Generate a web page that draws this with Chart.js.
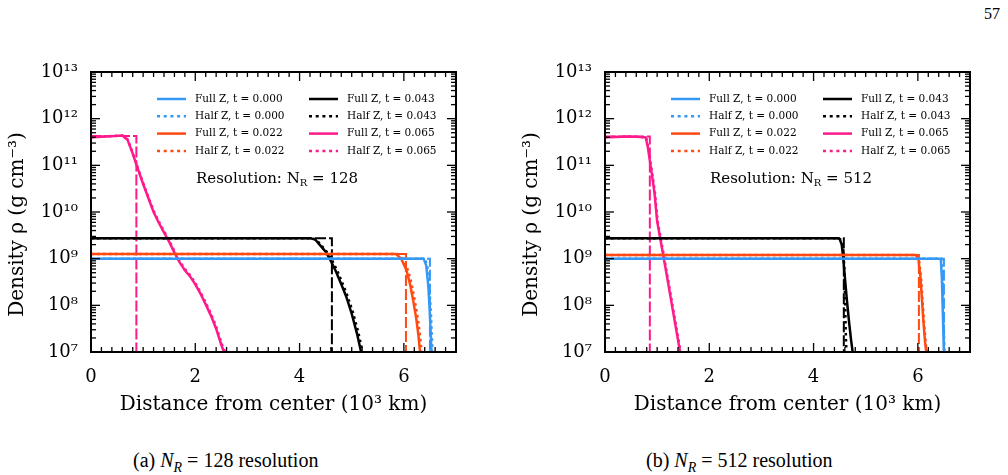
<!DOCTYPE html>
<html>
<head>
<meta charset="utf-8">
<script src="https://cdn.jsdelivr.net/npm/chart.js@4.4.1/dist/chart.umd.min.js"></script>
<style>
  body { margin: 0; background: #fff; width: 1008px; height: 475px; position: relative; overflow: hidden; }
  canvas { position: absolute; top: 0; }
  #left { left: 0; }
  #right { left: 514px; }
  .caption { position: absolute; top: 448px; font-family: "Liberation Serif", serif; font-size: 20px; line-height: 24px; white-space: nowrap; }
  .caption sub { font-size: 14px; line-height: 0; }
  .pagenum { position: absolute; top: 5px; left: 984px; font-family: "Liberation Serif", serif; font-size: 16px; }
</style>
</head>
<body>
<div class="pagenum">57</div>
<canvas id="left" width="494" height="420"></canvas>
<canvas id="right" width="494" height="420"></canvas>
<div class="caption" style="left:133px">(a) <i>N</i><sub><i>R</i></sub> = 128 resolution</div>
<div class="caption" style="left:646px">(b) <i>N</i><sub><i>R</i></sub> = 512 resolution</div>
<script>
// axis ranges and ticks
const xMin = 0, xMax = 7;
const xTickLabels = [0, 2, 4, 6];
const yDecades = [7, 8, 9, 10, 11, 12, 13];

const times = ['0.000', '0.022', '0.043', '0.065'];
const timeColors = ['#3598f5', '#ff4a12', '#000000', '#ff1a8c'];

// N_R = 128 : [distance (10^3 km), log10 density]
const r128Full000 = [[0, 9.0], [6.38, 9.0], [6.43, 8.85], [6.47, 8.4], [6.5, 7.8], [6.53, 7.0]];
const r128Half000 = [[0, 9.0], [6.4, 9.0], [6.45, 8.85], [6.49, 8.4], [6.52, 7.8], [6.55, 7.0]];
const r128Full022 = [[0, 9.1], [5.85, 9.1], [5.95, 9.0], [6.05, 8.75], [6.12, 8.45], [6.18, 8.1], [6.24, 7.7], [6.28, 7.35], [6.31, 7.0]];
const r128Half022 = [[0, 9.1], [5.88, 9.1], [5.98, 9.0], [6.08, 8.75], [6.15, 8.45], [6.21, 8.1], [6.27, 7.7], [6.31, 7.35], [6.34, 7.0]];
const r128Full043 = [[0, 9.44], [4.2, 9.44], [4.3, 9.41], [4.4, 9.28], [4.5, 9.15], [4.6, 8.95], [4.7, 8.72], [4.8, 8.45], [4.9, 8.17], [5.0, 7.82], [5.1, 7.4], [5.18, 7.0]];
const r128Half043 = [[0, 9.44], [4.22, 9.44], [4.32, 9.41], [4.42, 9.28], [4.52, 9.15], [4.62, 8.97], [4.72, 8.75], [4.82, 8.48], [4.92, 8.2], [5.02, 7.86], [5.12, 7.45], [5.21, 7.0]];
const r128Full065 = [[0, 11.6], [0.3, 11.62], [0.6, 11.64], [0.7, 11.55], [0.8, 11.25], [0.9, 10.92], [1.0, 10.6], [1.1, 10.3], [1.2, 10.0], [1.3, 9.77], [1.4, 9.56], [1.5, 9.36], [1.6, 9.13], [1.7, 8.92], [1.8, 8.75], [1.9, 8.62], [2.0, 8.45], [2.1, 8.25], [2.2, 8.02], [2.3, 7.78], [2.4, 7.5], [2.5, 7.15], [2.55, 7.0]];
const r128Half065 = [[0, 11.6], [0.3, 11.62], [0.6, 11.64], [0.7, 11.56], [0.8, 11.27], [0.9, 10.94], [1.0, 10.62], [1.1, 10.32], [1.2, 10.03], [1.3, 9.8], [1.4, 9.59], [1.5, 9.39], [1.6, 9.16], [1.7, 8.95], [1.8, 8.78], [1.9, 8.65], [2.0, 8.48], [2.1, 8.28], [2.2, 8.06], [2.3, 7.82], [2.4, 7.55], [2.5, 7.2], [2.57, 7.0]];
const r128StepX = [6.5, 6.04, 4.62, 0.87];
const r128StepLog = [9.0, 9.1, 9.44, 11.63];

// N_R = 512
const r512Full000 = [[0, 9.0], [6.44, 9.0], [6.46, 8.6], [6.48, 7.8], [6.5, 7.0]];
const r512Half000 = [[0, 9.0], [6.45, 9.0], [6.47, 8.6], [6.49, 7.8], [6.51, 7.0]];
const r512Full022 = [[0, 9.08], [5.96, 9.08], [6.01, 9.0], [6.05, 8.6], [6.08, 8.1], [6.11, 7.6], [6.14, 7.2], [6.16, 7.0]];
const r512Half022 = [[0, 9.08], [5.97, 9.08], [6.02, 9.0], [6.06, 8.6], [6.09, 8.1], [6.12, 7.6], [6.15, 7.2], [6.17, 7.0]];
const r512Full043 = [[0, 9.44], [4.45, 9.44], [4.5, 9.42], [4.54, 9.3], [4.57, 9.0], [4.6, 8.6], [4.64, 8.1], [4.68, 7.65], [4.72, 7.25], [4.75, 7.0]];
const r512Half043 = [[0, 9.44], [4.47, 9.44], [4.53, 9.4], [4.57, 9.2], [4.59, 8.8], [4.6, 8.3], [4.61, 7.8], [4.62, 7.3], [4.63, 7.0]];
const r512Full065 = [[0, 11.6], [0.5, 11.62], [0.78, 11.6], [0.82, 11.4], [0.86, 11.1], [0.9, 10.8], [0.95, 10.4], [1.0, 9.8], [1.1, 9.18], [1.2, 8.55], [1.3, 7.9], [1.4, 7.26], [1.44, 7.0]];
const r512Half065 = [[0, 11.6], [0.5, 11.62], [0.79, 11.6], [0.83, 11.4], [0.87, 11.1], [0.91, 10.8], [0.96, 10.4], [1.01, 9.8], [1.11, 9.18], [1.21, 8.55], [1.31, 7.9], [1.41, 7.26], [1.45, 7.0]];
const r512StepX = [6.5, 6.02, 4.58, 0.86];
const r512StepLog = [9.0, 9.08, 9.44, 11.62];

const SUP = { '0': '⁰', '1': '¹', '2': '²', '3': '³', '4': '⁴', '5': '⁵', '6': '⁶', '7': '⁷', '8': '⁸', '9': '⁹' };
const sup = (n) => String(n).split('').map(c => SUP[c]).join('');

const toPoints = (pairs) => pairs.map(([x, l]) => ({ x, y: Math.pow(10, l) }));

const buildDatasets = (full, half, stepX, stepLog) => {
  const sets = [];
  times.forEach((t, i) => {
    sets.push({
      label: `Full Z, t = ${t}`, data: toPoints(full[i]), borderColor: timeColors[i],
      borderWidth: 2.5, borderDash: [], legendSlot: i * 2,
    });
    sets.push({
      label: `Half Z, t = ${t}`, data: toPoints(half[i]), borderColor: timeColors[i],
      borderWidth: 2.5, borderDash: [2.5, 3.5], legendSlot: i * 2 + 1,
    });
    sets.push({
      label: '', borderColor: timeColors[i], borderWidth: 2, borderDash: [11, 3],
      data: toPoints([[0, stepLog[i]], [stepX[i], stepLog[i]], [stepX[i], yDecades[0]]]),
    });
  });
  sets.forEach(s => { s.pointRadius = 0; s.fill = false; s.tension = 0; });
  return sets;
};

const line = (ctx, x1, y1, x2, y2) => { ctx.beginPath(); ctx.moveTo(x1, y1); ctx.lineTo(x2, y2); ctx.stroke(); };

// frame, inward ticks, legend and label inside the plot
const framePlugin = {
  id: 'frame',
  afterDraw(chart, args, opts) {
    const { ctx, chartArea: a, scales: { x, y } } = chart;
    ctx.save();
    ctx.strokeStyle = '#000';
    ctx.setLineDash([]);
    ctx.lineWidth = 1.3;
    for (let d = 0; d < yDecades.length - 1; d++) {
      for (let m = 1; m < 10; m++) {
        const py = y.getPixelForValue(m * Math.pow(10, yDecades[d]));
        const len = m === 1 ? 9 : 5;
        line(ctx, a.left, py, a.left + len, py);
        line(ctx, a.right, py, a.right - len, py);
      }
    }
    for (let k = 0; k <= 35; k++) {
      const px = x.getPixelForValue(k * 0.2);
      const len = k % 10 === 0 ? 9 : 5;
      line(ctx, px, a.bottom, px, a.bottom - len);
      line(ctx, px, a.top, px, a.top + len);
    }
    ctx.lineWidth = 2;
    ctx.strokeRect(a.left, a.top, a.right - a.left, a.bottom - a.top);

    // legend, two columns of four
    ctx.font = '10.5px "DejaVu Serif"';
    ctx.textBaseline = 'middle';
    ctx.fillStyle = '#000';
    chart.data.datasets.forEach(ds => {
      if (ds.legendSlot === undefined) return;
      const col = ds.legendSlot < 4 ? 0 : 1;
      const row = ds.legendSlot % 4;
      const lx = a.left + (col ? 218 : 66);
      const ly = a.top + 27 + row * 17.3;
      ctx.strokeStyle = ds.borderColor;
      ctx.lineWidth = 2.5;
      ctx.setLineDash(ds.borderDash.length ? [3, 3.7] : []);
      line(ctx, lx, ly, lx + 29, ly);
      ctx.fillText(ds.label, lx + 38, ly);
    });

    // resolution label with subscript
    const rx = a.left + 105, ry = a.top + 107;
    ctx.font = '15px "DejaVu Serif"';
    const s1 = 'Resolution: N';
    ctx.fillText(s1, rx, ry);
    let w = ctx.measureText(s1).width;
    ctx.font = '10px "DejaVu Serif"';
    ctx.fillText('R', rx + w, ry + 4);
    w += ctx.measureText('R').width;
    ctx.font = '15px "DejaVu Serif"';
    ctx.fillText(' = ' + opts.resolution, rx + w, ry);
    ctx.restore();
  }
};

const makeChart = (id, resolution, datasets) => new Chart(document.getElementById(id), {
  type: 'line',
  data: { datasets },
  plugins: [framePlugin],
  options: {
    responsive: false,
    animation: false,
    events: [],
    devicePixelRatio: 1,
    layout: { padding: { top: 72, right: 38, bottom: 0, left: 0 } },
    plugins: { legend: { display: false }, tooltip: { enabled: false }, frame: { resolution } },
    scales: {
      x: {
        type: 'linear', min: xMin, max: xMax,
        grid: { display: false, drawTicks: false }, border: { display: false },
        afterBuildTicks: (s) => { s.ticks = xTickLabels.map(v => ({ value: v })); },
        afterFit: (s) => { s.height = 68; },
        ticks: { padding: 15, color: '#000', font: { family: 'DejaVu Serif', size: 18 } },
        title: {
          display: true, text: 'Distance from center (10³ km)', color: '#000',
          font: { family: 'DejaVu Serif', size: 20 }, padding: { top: 0, bottom: 3 },
        },
      },
      y: {
        type: 'logarithmic', min: 1e7, max: 1e13,
        grid: { display: false, drawTicks: false }, border: { display: false },
        afterBuildTicks: (s) => { s.ticks = yDecades.map(e => ({ value: Math.pow(10, e) })); },
        afterFit: (s) => { s.width = 91; },
        ticks: {
          padding: 13, color: '#000', font: { family: 'DejaVu Serif', size: 18 },
          callback: (v) => '10' + sup(Math.round(Math.log10(v))),
        },
        title: {
          display: true, text: 'Density ρ (g cm⁻³)\u2003\u2005', color: '#000',
          font: { family: 'DejaVu Serif', size: 20 }, padding: { top: 6, bottom: 0 },
        },
      },
    },
  },
});

makeChart('left', 128, buildDatasets(
  [r128Full000, r128Full022, r128Full043, r128Full065],
  [r128Half000, r128Half022, r128Half043, r128Half065],
  r128StepX, r128StepLog));
makeChart('right', 512, buildDatasets(
  [r512Full000, r512Full022, r512Full043, r512Full065],
  [r512Half000, r512Half022, r512Half043, r512Half065],
  r512StepX, r512StepLog));
</script>
</body>
</html>
